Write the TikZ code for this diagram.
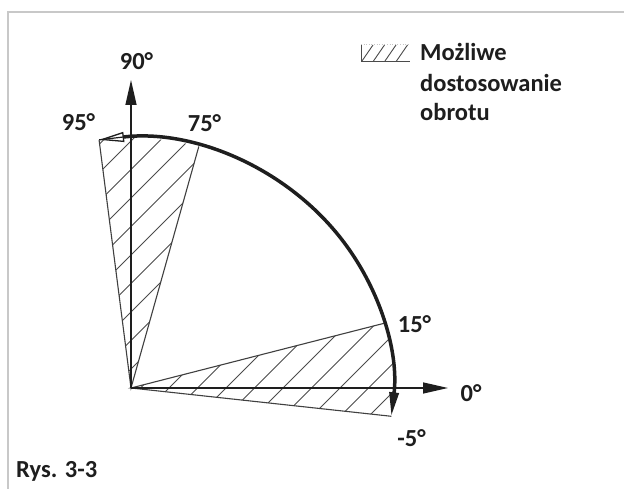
\documentclass[tikz,border=0pt]{standalone}
\usepackage{fontspec}
\setmainfont{Carlito}
\usetikzlibrary{arrows.meta}
\definecolor{ink}{HTML}{1E1E1E}
\definecolor{framecol}{HTML}{C8C8C8}
\begin{document}
\begin{tikzpicture}[x=1pt,y=1pt,
  lbl/.style={font=\fontsize{24.5}{28}\selectfont\bfseries, text=ink, inner sep=0pt, anchor=base},
  edgeline/.style={draw=ink!85, line width=1.1pt},
  hatchline/.style={draw=ink!80, line width=0.9pt},
  axisline/.style={draw=ink, line width=1.3pt, -{Triangle[length=25pt,width=11pt]}},
]
\useasboundingbox (0,0) rectangle (624,489);
\fill[white] (0,0) rectangle (624,489);
\draw[framecol, line width=2pt] (7.5,-1) -- (7.5,477) -- (625,477);
% geometry
\coordinate (O) at (131,101);
\path (O) ++(97:262pt and 250pt) coordinate (P95);
\path (O) ++(75:262pt and 250pt) coordinate (P75);
\path (O) ++(15:262pt and 250pt) coordinate (P15);
\path (O) ++(-6.5:262pt and 250pt) coordinate (Pm5);
\coordinate (XE) at (448,101);
\coordinate (YE) at (131,409);
% hatching
\begin{scope}
  \clip (O) -- (P95) arc[start angle=97,end angle=75,x radius=262pt,y radius=250pt] -- cycle;
  \foreach \k in {-2,...,20} \draw[hatchline] ({272+28.5*\k-489},0) -- ({272+28.5*\k},489);
\end{scope}
\begin{scope}
  \clip (O) -- (Pm5) arc[start angle=-6.5,end angle=15,x radius=262pt,y radius=250pt] -- cycle;
  \foreach \k in {-2,...,20} \draw[hatchline] ({272+28.5*\k-489},0) -- ({272+28.5*\k},489);
\end{scope}
% sector edges
\draw[edgeline] (P95) -- (O) -- (P75);
\draw[edgeline] (P15) -- (O) -- (Pm5);
% axes
\draw[axisline] (O) -- (XE);
\draw[axisline] (O) -- (YE);
% thick arc
\draw[ink, line width=3.5pt, {Triangle[open,length=25pt,width=10pt,line width=1.3pt]}-{Triangle[length=24pt,width=9pt]}]
  (P95) arc[start angle=97,end angle=-6.5,x radius=262pt,y radius=250pt];
\draw[ink, line width=1.2pt] (P95) -- ++(6.7:25pt);
% labels
\node[lbl] (l90) at (136.5,419) {90°};
\node[lbl] (l95) at (78.5,358) {95°};
\node[lbl] (l75) at (204.5,357) {75°};
\node[lbl] (l15) at (414.5,156) {15°};
\node[lbl] (l0) at (471,87) {0°};
\node[lbl] (lm5) at (411.5,42) {-5°};
\node[lbl, anchor=base west] (rys) at (16,11) {Rys. 3-3};
% legend
\draw[hatchline] (361,444) -- (361,428) -- (410,428);
\foreach \i in {0,...,3} \draw[hatchline] ({362+11.5*\i},428) -- ({373+11.5*\i},444);
\draw[gray!45, line width=0.6pt, dotted] (361,445) -- (410,445);
\node[lbl, anchor=base west] (leg1) at (420,428) {Możliwe};
\node[lbl, anchor=base west] (leg2) at (420,397) {dostosowanie};
\node[lbl, anchor=base west] (leg3) at (420,368) {obrotu};
\end{tikzpicture}
\end{document}
